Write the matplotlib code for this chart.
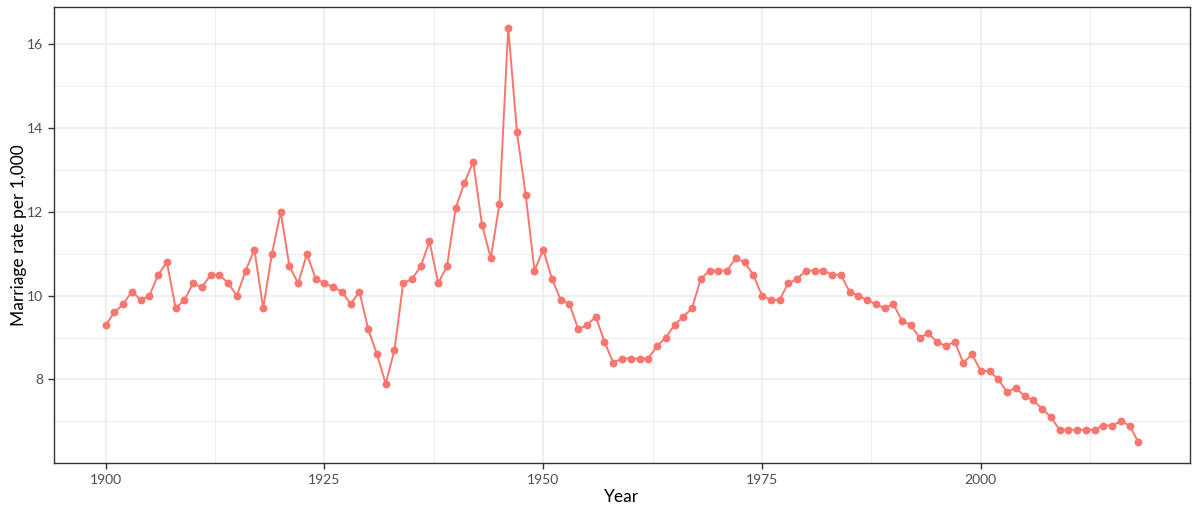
import numpy as np
import matplotlib
matplotlib.use("Agg")
from matplotlib import pyplot as plt
from matplotlib.ticker import MultipleLocator

plt.rcParams['font.family'] = ['Lato', 'DejaVu Sans']

# US marriage rate per 1,000, 1900-2018
years = list(range(1900, 2019))
rate = [9.3, 9.6, 9.8, 10.1, 9.9, 10.0, 10.5, 10.8, 9.7, 9.9,
        10.3, 10.2, 10.5, 10.5, 10.3, 10.0, 10.6, 11.1, 9.7, 11.0,
        12.0, 10.7, 10.3, 11.0, 10.4, 10.3, 10.2, 10.1, 9.8, 10.1,
        9.2, 8.6, 7.9, 8.7, 10.3, 10.4, 10.7, 11.3, 10.3, 10.7,
        12.1, 12.7, 13.2, 11.7, 10.9, 12.2, 16.4, 13.9, 12.4, 10.6,
        11.1, 10.4, 9.9, 9.8, 9.2, 9.3, 9.5, 8.9, 8.4, 8.5,
        8.5, 8.5, 8.5, 8.8, 9.0, 9.3, 9.5, 9.7, 10.4, 10.6,
        10.6, 10.6, 10.9, 10.8, 10.5, 10.0, 9.9, 9.9, 10.3, 10.4,
        10.6, 10.6, 10.6, 10.5, 10.5, 10.1, 10.0, 9.9, 9.8, 9.7,
        9.8, 9.4, 9.3, 9.0, 9.1, 8.9, 8.8, 8.9, 8.4, 8.6,
        8.2, 8.2, 8.0, 7.7, 7.8, 7.6, 7.5, 7.3, 7.1, 6.8,
        6.8, 6.8, 6.8, 6.8, 6.9, 6.9, 7.0, 6.9, 6.5]

fig = plt.figure(figsize=(12, 5.14), dpi=100)
ax = fig.add_axes([54 / 1200, 1 - 463 / 514, (1190 - 54) / 1200, (463 - 7) / 514])

ax.plot(years, rate, color='#F8766D', lw=1.4, zorder=3)
ax.scatter(years, rate, color='#F8766D', s=32, zorder=4, linewidths=0)

xr = years[-1] - years[0]
ax.set_xlim(years[0] - 0.05 * xr, years[-1] + 0.05 * xr)
yr = max(rate) - min(rate)
ax.set_ylim(min(rate) - 0.05 * yr, max(rate) + 0.05 * yr)

ax.xaxis.set_major_locator(MultipleLocator(25))
ax.xaxis.set_minor_locator(MultipleLocator(12.5))
ax.yaxis.set_major_locator(MultipleLocator(2))
ax.yaxis.set_minor_locator(MultipleLocator(1))
ax.grid(which='major', color='#EBEBEB', lw=1.1)
ax.grid(which='minor', color='#EBEBEB', lw=0.6)
ax.set_axisbelow(True)

for s in ax.spines.values():
    s.set_color('#333333')
    s.set_linewidth(1.0)

ax.tick_params(which='major', length=4, width=1, color='#333333',
               labelcolor='#4D4D4D', labelsize=10, pad=4)
ax.tick_params(which='minor', length=0)

ax.set_xlabel('Year', fontsize=12.5)
ax.set_ylabel('Marriage rate per 1,000', fontsize=12.5)
ax.xaxis.set_label_coords(0.5, -0.058)
ax.yaxis.set_label_coords(-0.024, 0.5)

fig.savefig('out.png', dpi=100)
